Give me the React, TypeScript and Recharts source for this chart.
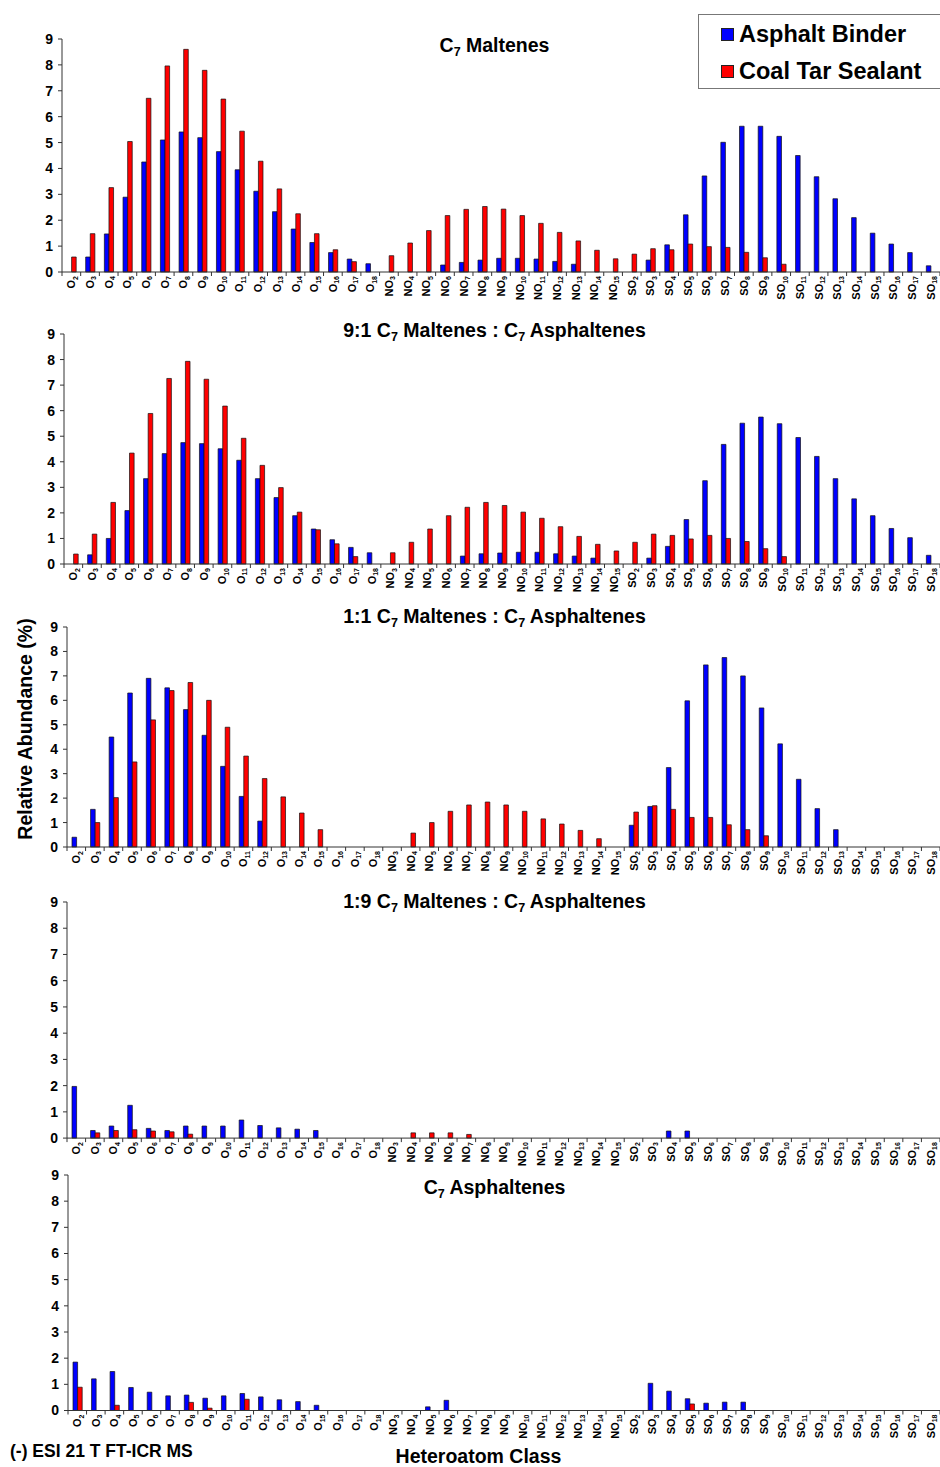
import React from 'react';
import { BarChart, Bar, XAxis, YAxis, Legend } from 'recharts';

const FONT = 'Arial, "Liberation Sans", Helvetica, sans-serif';

// ---- categories (heteroatom classes) ----
const oClasses = ['O2','O3','O4','O5','O6','O7','O8','O9','O10','O11','O12','O13','O14','O15','O16','O17','O18'];
const noClasses = ['NO3','NO4','NO5','NO6','NO7','NO8','NO9','NO10','NO11','NO12','NO13','NO14','NO15'];
const soClasses = ['SO2','SO3','SO4','SO5','SO6','SO7','SO8','SO9','SO10','SO11','SO12','SO13','SO14','SO15','SO16','SO17','SO18'];
const categories = [...oClasses, ...noClasses, ...soClasses];

const yTicks = [0, 1, 2, 3, 4, 5, 6, 7, 8, 9];
const seriesNames = ['Asphalt Binder', 'Coal Tar Sealant'];
const seriesColors = ['#0000FF', '#FF0000'];

// ---- Panel 1: C7 Maltenes ----
const p1Binder = [
  0, 0.58, 1.47, 2.89, 4.25, 5.10, 5.41, 5.19, 4.65, 3.95, 3.12, 2.33, 1.66, 1.14, 0.75, 0.50, 0.32,
  0, 0, 0, 0.27, 0.37, 0.46, 0.53, 0.53, 0.50, 0.41, 0.30, 0, 0,
  0, 0.46, 1.05, 2.21, 3.71, 5.01, 5.63, 5.63, 5.24, 4.50, 3.68, 2.83, 2.10, 1.50, 1.08, 0.75, 0.24,
];
const p1Sealant = [
  0.58, 1.48, 3.26, 5.04, 6.71, 7.96, 8.60, 7.79, 6.68, 5.44, 4.28, 3.21, 2.25, 1.48, 0.86, 0.40, 0,
  0.63, 1.12, 1.60, 2.18, 2.42, 2.53, 2.43, 2.18, 1.88, 1.53, 1.20, 0.84, 0.51,
  0.69, 0.90, 0.86, 1.08, 0.98, 0.95, 0.76, 0.55, 0.30, 0, 0, 0, 0, 0, 0, 0, 0,
];

// ---- Panel 2: 9:1 ----
const p2Binder = [
  0, 0.36, 1.00, 2.09, 3.34, 4.32, 4.75, 4.71, 4.51, 4.06, 3.34, 2.60, 1.89, 1.37, 0.95, 0.65, 0.44,
  0, 0, 0, 0, 0.31, 0.40, 0.43, 0.46, 0.46, 0.40, 0.31, 0.23, 0,
  0, 0.23, 0.69, 1.74, 3.26, 4.68, 5.51, 5.75, 5.49, 4.95, 4.21, 3.34, 2.55, 1.89, 1.39, 1.03, 0.34,
];
const p2Sealant = [
  0.39, 1.17, 2.41, 4.34, 5.89, 7.26, 7.93, 7.23, 6.18, 4.92, 3.86, 2.99, 2.03, 1.34, 0.79, 0.29, 0,
  0.44, 0.85, 1.37, 1.89, 2.22, 2.41, 2.29, 2.03, 1.79, 1.46, 1.08, 0.77, 0.51,
  0.85, 1.17, 1.12, 0.98, 1.12, 1.00, 0.88, 0.60, 0.29, 0, 0, 0, 0, 0, 0, 0, 0,
];

// ---- Panel 3: 1:1 ----
const p3Binder = [
  0.40, 1.54, 4.50, 6.30, 6.90, 6.51, 5.62, 4.57, 3.30, 2.07, 1.06, 0, 0, 0, 0, 0, 0,
  0, 0, 0, 0, 0, 0, 0, 0, 0, 0, 0, 0, 0,
  0.89, 1.66, 3.25, 5.98, 7.45, 7.75, 7.00, 5.69, 4.22, 2.77, 1.57, 0.71, 0, 0, 0, 0, 0,
];
const p3Sealant = [
  0, 1.00, 2.02, 3.48, 5.20, 6.40, 6.73, 6.00, 4.90, 3.72, 2.80, 2.05, 1.39, 0.71, 0, 0, 0,
  0, 0.57, 1.00, 1.46, 1.72, 1.84, 1.72, 1.46, 1.15, 0.94, 0.68, 0.34, 0,
  1.43, 1.69, 1.54, 1.21, 1.21, 0.91, 0.71, 0.46, 0, 0, 0, 0, 0, 0, 0, 0, 0,
];

// ---- Panel 4: 1:9 ----
const p4Binder = [
  1.97, 0.29, 0.46, 1.25, 0.37, 0.29, 0.46, 0.46, 0.46, 0.69, 0.48, 0.39, 0.34, 0.29, 0, 0, 0,
  0, 0, 0, 0, 0, 0, 0, 0, 0, 0, 0, 0, 0,
  0, 0, 0.27, 0.27, 0, 0, 0, 0, 0, 0, 0, 0, 0, 0, 0, 0, 0,
];
const p4Sealant = [
  0, 0.20, 0.29, 0.32, 0.27, 0.24, 0.15, 0, 0, 0, 0, 0, 0, 0, 0, 0, 0,
  0, 0.20, 0.20, 0.20, 0.14, 0, 0, 0, 0, 0, 0, 0, 0,
  0, 0, 0, 0, 0, 0, 0, 0, 0, 0, 0, 0, 0, 0, 0, 0, 0,
];

// ---- Panel 5: C7 Asphaltenes ----
const p5Binder = [
  1.85, 1.21, 1.49, 0.88, 0.70, 0.56, 0.59, 0.47, 0.56, 0.65, 0.52, 0.41, 0.34, 0.20, 0, 0, 0,
  0, 0, 0.14, 0.39, 0, 0, 0, 0, 0, 0, 0, 0, 0,
  0, 1.04, 0.74, 0.45, 0.28, 0.32, 0.32, 0, 0, 0, 0, 0, 0, 0, 0, 0, 0,
];
const p5Sealant = [
  0.89, 0, 0.20, 0, 0, 0, 0.31, 0.09, 0, 0.43, 0, 0, 0, 0, 0, 0, 0,
  0, 0, 0, 0, 0, 0, 0, 0, 0, 0, 0, 0, 0,
  0, 0, 0, 0.25, 0, 0, 0, 0, 0, 0, 0, 0, 0, 0, 0, 0, 0,
];

// title parts: alternating normal text and subscript
const panelTitles: string[][] = [
  ['C', '7', ' Maltenes'],
  ['9:1 C', '7', ' Maltenes : C', '7', ' Asphaltenes'],
  ['1:1 C', '7', ' Maltenes : C', '7', ' Asphaltenes'],
  ['1:9 C', '7', ' Maltenes : C', '7', ' Asphaltenes'],
  ['C', '7', ' Asphaltenes'],
];

const panels = [
  { binder: p1Binder, sealant: p1Sealant, top9: 39, zero: 272, left: 62, titleY: 52 },
  { binder: p2Binder, sealant: p2Sealant, top9: 334, zero: 564, left: 64, titleY: 337 },
  { binder: p3Binder, sealant: p3Sealant, top9: 626.7, zero: 846.7, left: 67, titleY: 623 },
  { binder: p4Binder, sealant: p4Sealant, top9: 901.6, zero: 1137.7, left: 67, titleY: 908 },
  { binder: p5Binder, sealant: p5Sealant, top9: 1175.2, zero: 1410.7, left: 68, titleY: 1194 },
];

const CHART_W = 940;
const MARGIN_TOP = 30;
const XAXIS_H = 40;

function XTick(props: any) {
  const { x, y, payload, index, step } = props;
  const m = String(payload.value).match(/^([A-Z]+)(\d+)$/);
  const base = m ? m[1] : String(payload.value);
  const sub = m ? m[2] : '';
  const last = index === categories.length - 1;
  return (
    <g>
      <line x1={x - step / 2} x2={x - step / 2} y1={y} y2={y + 4} stroke="#333" strokeWidth={1} />
      {last && <line x1={x + step / 2} x2={x + step / 2} y1={y} y2={y + 4} stroke="#333" strokeWidth={1} />}
      <g transform={`translate(${x},${y + 4}) rotate(-90)`}>
        <text x={0} y={4} textAnchor="end" fontFamily={FONT} fontWeight="bold" fontSize={11} fill="#000">
          {base}
          <tspan fontSize={7} dy={2.4}>{sub}</tspan>
        </text>
      </g>
    </g>
  );
}

function LegendBox() {
  const rows = seriesNames.map((n, i) => (
    <div key={n} style={{ position: 'absolute', left: 22, top: 5 + i * 37, height: 28, display: 'flex', alignItems: 'center' }}>
      <div style={{ width: 11, height: 11, background: seriesColors[i], border: '1px solid #222', marginRight: 5 }} />
      <span style={{ fontFamily: FONT, fontWeight: 'bold', fontSize: 23.5, color: '#000', whiteSpace: 'nowrap' }}>{n}</span>
    </div>
  ));
  return (
    <div style={{ position: 'relative', width: 243, height: 75, border: '1.5px solid #777', boxSizing: 'border-box', background: '#fff' }}>
      {rows}
    </div>
  );
}

function Panel({ idx }: { idx: number }) {
  const p = panels[idx];
  const plotH = p.zero - p.top9;
  const chartTop = p.top9 - MARGIN_TOP;
  const height = MARGIN_TOP + plotH + XAXIS_H;
  const step = (CHART_W - p.left) / categories.length;
  const data = categories.map((c, i) => ({ cat: c, binder: p.binder[i], sealant: p.sealant[i] }));
  return (
    <div style={{ position: 'absolute', left: 0, top: chartTop }}>
      <BarChart
        width={CHART_W}
        height={height}
        data={data}
        margin={{ top: MARGIN_TOP, right: 0, left: 0, bottom: 0 }}
        barGap={0}
      >
        <XAxis
          dataKey="cat"
          interval={0}
          tickSize={0}
          tickMargin={0}
          tickLine={false}
          axisLine={{ stroke: '#333', strokeWidth: 1 }}
          height={XAXIS_H}
          tick={(tp: any) => <XTick {...tp} step={step} />}
        />
        <YAxis
          width={p.left}
          domain={[0, 9]}
          ticks={yTicks}
          interval={0}
          allowDecimals={false}
          tickSize={4}
          tickMargin={5}
          axisLine={{ stroke: '#333', strokeWidth: 1 }}
          tickLine={{ stroke: '#333', strokeWidth: 1 }}
          tick={{ fill: '#000', fontSize: 14, fontWeight: 'bold', fontFamily: FONT }}
        />
        <Bar dataKey="binder" name={seriesNames[0]} fill={seriesColors[0]} stroke="#111" strokeWidth={0.7} barSize={4.6} isAnimationActive={false} />
        <Bar dataKey="sealant" name={seriesNames[1]} fill={seriesColors[1]} stroke="#111" strokeWidth={0.7} barSize={4.6} isAnimationActive={false} />
        {idx === 0 && (
          <Legend
            layout="vertical"
            align="center"
            verticalAlign="middle"
            content={() => <LegendBox />}
            wrapperStyle={{ left: 698, top: 14 - chartTop, width: 243, height: 75 }}
          />
        )}
      </BarChart>
    </div>
  );
}

function Title({ parts, y }: { parts: string[]; y: number }) {
  const children: any[] = [];
  parts.forEach((t, i) => {
    const isSub = i % 2 === 1;
    const prevSub = i > 0 && !isSub;
    children.push(
      <tspan key={i} fontSize={isSub ? 12.5 : 19.5} dy={isSub ? 4 : prevSub ? -4 : 0}>
        {t}
      </tspan>
    );
  });
  return (
    <text x={494.5} y={y} textAnchor="middle" fontFamily={FONT} fontWeight="bold" fill="#000" style={{ whiteSpace: 'pre' }}>
      {children}
    </text>
  );
}

export default function App() {
  return (
    <div style={{ position: 'absolute', left: 0, top: 0, width: 940, height: 1467, background: '#fff', overflow: 'hidden' }}>
      {panels.map((_, i) => (
        <Panel key={i} idx={i} />
      ))}
      <svg width={940} height={1467} style={{ position: 'absolute', left: 0, top: 0, pointerEvents: 'none' }}>
        {panels.map((p, i) => (
          <Title key={i} parts={panelTitles[i]} y={p.titleY} />
        ))}
        <text
          transform="translate(31.5,729) rotate(-90)"
          textAnchor="middle"
          fontFamily={FONT}
          fontWeight="bold"
          fontSize={19.5}
          fill="#000"
        >
          Relative Abundance (%)
        </text>
        <text x={10} y={1457} fontFamily={FONT} fontWeight="bold" fontSize={17.5} fill="#000">
          (-) ESI 21 T FT-ICR MS
        </text>
        <text x={478.5} y={1463} textAnchor="middle" fontFamily={FONT} fontWeight="bold" fontSize={19.5} fill="#000">
          Heteroatom Class
        </text>
      </svg>
    </div>
  );
}
